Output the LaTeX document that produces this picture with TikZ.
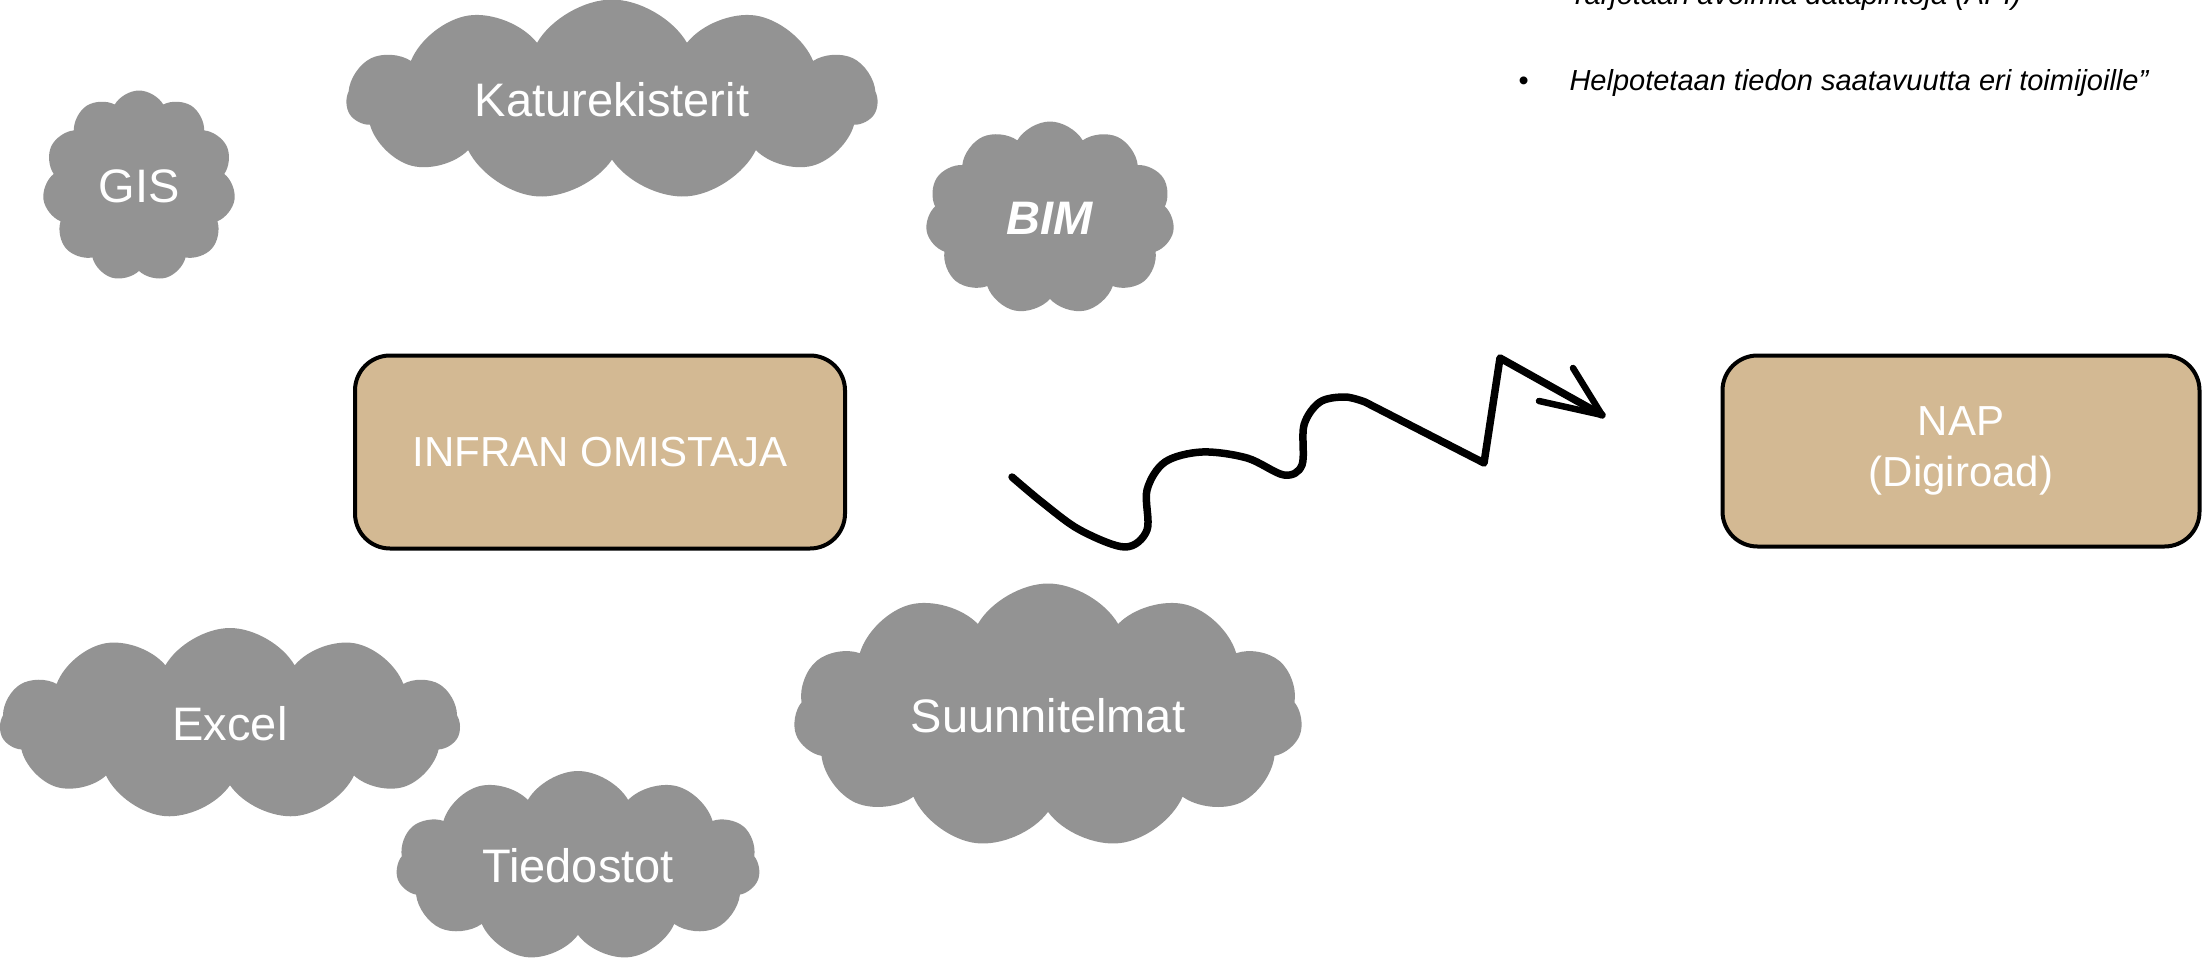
\documentclass[tikz,border=0pt]{standalone}
\usepackage{fontspec}
\setmainfont{Liberation Sans}
\usepackage{xcolor}
\definecolor{cloudgray}{RGB}{147,147,147}
\definecolor{ownertan}{RGB}{211,185,147}
\usetikzlibrary{shapes}

\begin{document}
\begin{tikzpicture}[
            x=1pt, y=-1pt,
            line join=round,
            graycloud/.style={shape=cloud, cloud puffs=11, cloud puff arc=120, fill=cloudgray, draw=none, text=white, inner sep=0pt, font=\fontsize{47}{56}\selectfont},
            tanbox/.style={shape=rectangle, rounded corners=35pt, fill=ownertan, draw=black, line width=4pt, text=white, align=center, font=\fontsize{42}{51}\selectfont},
            bullettext/.style={anchor=base west, font=\fontsize{29}{35}\selectfont\itshape}
            ]

            \useasboundingbox (0,0) rectangle (2202,963);
            \clip (0,0) rectangle (2202,963);

            % Clouds
            \node[graycloud, aspect=1.0, minimum width=193pt, minimum height=191pt] (gis) at (139,186) {GIS};
            \node[graycloud, aspect=2.7, minimum width=530pt, minimum height=193pt] (katu) at (612,100) {Katurekisterit};
            \node[graycloud, aspect=1.3, minimum width=249pt, minimum height=193pt, font=\fontsize{47}{56}\selectfont\bfseries\itshape] (bim) at (1050,218) {BIM};
            \node[graycloud, aspect=2.4, minimum width=460pt, minimum height=192pt] (excel) at (230,724) {Excel};
            \node[graycloud, aspect=1.9, minimum width=509pt, minimum height=265pt] (suunn) at (1048,716) {Suunnitelmat};
            \node[graycloud, aspect=1.9, minimum width=364pt, minimum height=190pt] (tiedo) at (578,866) {Tiedostot};

            % Boxes
            \node[tanbox, minimum width=490pt, minimum height=193pt] (owner) at (600,452) {INFRAN OMISTAJA};
            \node[tanbox, minimum width=477pt, minimum height=191pt] (nap) at (1961,451) {NAP\\(Digiroad)};

            % Squiggle arrow
            \coordinate (wavestart) at (1012,477);
            \coordinate (wavetip) at (1602,415);
            \draw[line width=7.5pt, line cap=round] plot[smooth, tension=0.55] coordinates {(wavestart) (1043,503) (1080,530) (1125,547) (1147,530) (1147,490) (1165,462) (1202,452) (1247,458) (1284,475) (1302,465) (1304,425) (1320,402) (1345,397) (1365,402)} -- (1484,463) -- (1500,358) -- (wavetip);
            \draw[line width=6.5pt, line cap=round] (1539,401) -- (wavetip) -- (1573,368);

            % Bullet text
            \node[bullettext] (api) at (1566,5) {Tarjotaan avoimia datapintoja (API)};
            \node[bullettext, font=\fontsize{29}{35}\selectfont] (dot) at (1515,91) {•};
            \node[bullettext] (help) at (1566,91) {Helpotetaan tiedon saatavuutta eri toimijoille”};
\end{tikzpicture}
\end{document}
